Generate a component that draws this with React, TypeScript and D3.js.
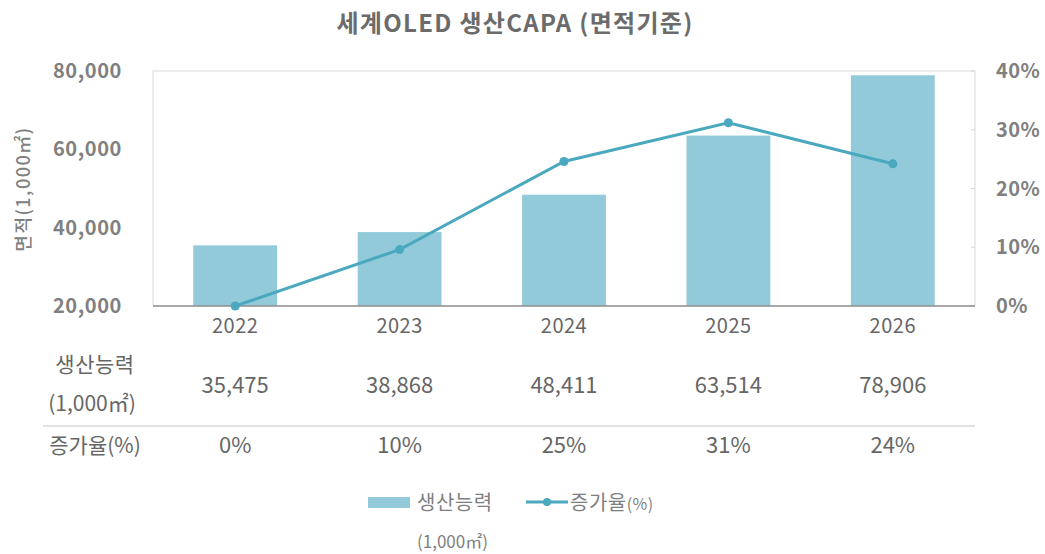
import React from "react";
import * as d3 from "d3";

const years = ["2022", "2023", "2024", "2025", "2026"];
const capacity = [35475, 38868, 48411, 63514, 78906];
const growth = [0, 9.6, 24.6, 31.2, 24.2];
const capacityLabels = ["35,475", "38,868", "48,411", "63,514", "78,906"];
const growthLabels = ["0%", "10%", "25%", "31%", "24%"];
const leftTicks = [20000, 40000, 60000, 80000];
const rightTicks = [0, 10, 20, 30, 40];

const W = 1045, H = 554;
const M = { left: 153, right: 975, top: 71, bottom: 306 };
const BAR = "#92CAD9";
const LINE = "#4AA8BF";
const KR = "'Noto Sans CJK KR', 'Noto Sans', sans-serif";
const TXT = "#666666";

export default function App() {
  const x = d3.scaleBand().domain(years).range([M.left, M.right]).paddingInner(0.49).paddingOuter(0.245);
  const yL = d3.scaleLinear().domain([20000, 80000]).range([M.bottom, M.top]);
  const yR = d3.scaleLinear().domain([0, 40]).range([M.bottom, M.top]);
  const cx = (d: string) => (x(d) as number) + x.bandwidth() / 2;
  const line = d3.line<number>().x((_, i) => cx(years[i])).y((d) => yR(d));

  return (
    <svg width={W} height={H} style={{ position: "absolute", left: 0, top: 0 }}>
      <rect width={W} height={H} fill="#fff" />
      <text x={515} y={32} textAnchor="middle" fontFamily={KR} fontWeight={700} fontSize={24} letterSpacing={1.3} fill="#6b6b6b">
        세계OLED 생산CAPA (면적기준)
      </text>
      {/* plot frame */}
      <line x1={M.left} x2={M.right} y1={M.top} y2={M.top} stroke="#d9d9d9" />
      <line x1={M.left} x2={M.left} y1={M.top} y2={M.bottom} stroke="#d9d9d9" />
      <line x1={M.right} x2={M.right} y1={M.top} y2={M.bottom} stroke="#d9d9d9" />
      {rightTicks.map((t) => (
        <line key={t} x1={M.right - 4} x2={M.right} y1={yR(t)} y2={yR(t)} stroke="#d9d9d9" />
      ))}
      {capacity.map((v, i) => (
        <rect key={i} x={x(years[i])} y={yL(v)} width={x.bandwidth()} height={M.bottom - yL(v)} fill={BAR} />
      ))}
      <line x1={M.left} x2={M.right} y1={M.bottom} y2={M.bottom} stroke="#8c8c8c" strokeWidth={1.5} />
      <path d={line(growth) || ""} fill="none" stroke={LINE} strokeWidth={3} />
      {growth.map((g, i) => (
        <circle key={i} cx={cx(years[i])} cy={yR(g)} r={4.5} fill={LINE} />
      ))}
      {/* left axis */}
      {leftTicks.map((t) => (
        <text key={t} x={122} y={yL(t) + 7} textAnchor="end" fontFamily={KR} fontWeight={600} fontSize={20} letterSpacing={0.6} fill="#808080">
          {d3.format(",")(t)}
        </text>
      ))}
      <text transform={`translate(30,189) rotate(-90)`} textAnchor="middle" fontFamily={KR} fontWeight={500} fontSize={18} letterSpacing={1.5} fill="#808080">
        면적(1,000㎡)
      </text>
      {/* right axis */}
      {rightTicks.map((t) => (
        <text key={t} x={996} y={yR(t) + 7} textAnchor="start" fontFamily={KR} fontWeight={600} fontSize={20} letterSpacing={0.5} fill="#808080">
          {t}%
        </text>
      ))}
      {/* x labels */}
      {years.map((yv) => (
        <text key={yv} x={cx(yv)} y={333} textAnchor="middle" fontFamily={KR} fontSize={20} letterSpacing={0.5} fill={TXT}>
          {yv}
        </text>
      ))}
      {/* data table */}
      <text x={95} y={372} textAnchor="middle" fontFamily={KR} fontSize={21} letterSpacing={0.5} fill={TXT}>생산능력</text>
      <text x={92} y={411} textAnchor="middle" fontFamily={KR} fontSize={21} fill={TXT}>(1,000㎡)</text>
      {capacityLabels.map((c, i) => (
        <text key={i} x={cx(years[i])} y={393} textAnchor="middle" fontFamily={KR} fontSize={22} fill={TXT}>{c}</text>
      ))}
      <line x1={43} x2={975} y1={426} y2={426} stroke="#d9d9d9" strokeWidth={1.5} />
      <text x={95} y={453} textAnchor="middle" fontFamily={KR} fontSize={21} fill={TXT}>증가율(%)</text>
      {growthLabels.map((c, i) => (
        <text key={i} x={cx(years[i])} y={453} textAnchor="middle" fontFamily={KR} fontSize={22} fill={TXT}>{c}</text>
      ))}
      {/* legend */}
      <rect x={368} y={497} width={42} height={11} fill={BAR} />
      <text x={417} y={510} fontFamily={KR} fontSize={20} letterSpacing={0.5} fill="#7f7f7f">생산능력</text>
      <text x={417} y={548} fontFamily={KR} fontSize={17} fill="#7f7f7f">(1,000㎡)</text>
      <line x1={526} x2={568} y1={502} y2={502} stroke={LINE} strokeWidth={3} />
      <circle cx={547} cy={502} r={4} fill={LINE} />
      <text x={570} y={510} fontFamily={KR} fontSize={20} letterSpacing={0.5} fill="#7f7f7f">
        증가율<tspan fontSize={16}>(%)</tspan>
      </text>
    </svg>
  );
}
